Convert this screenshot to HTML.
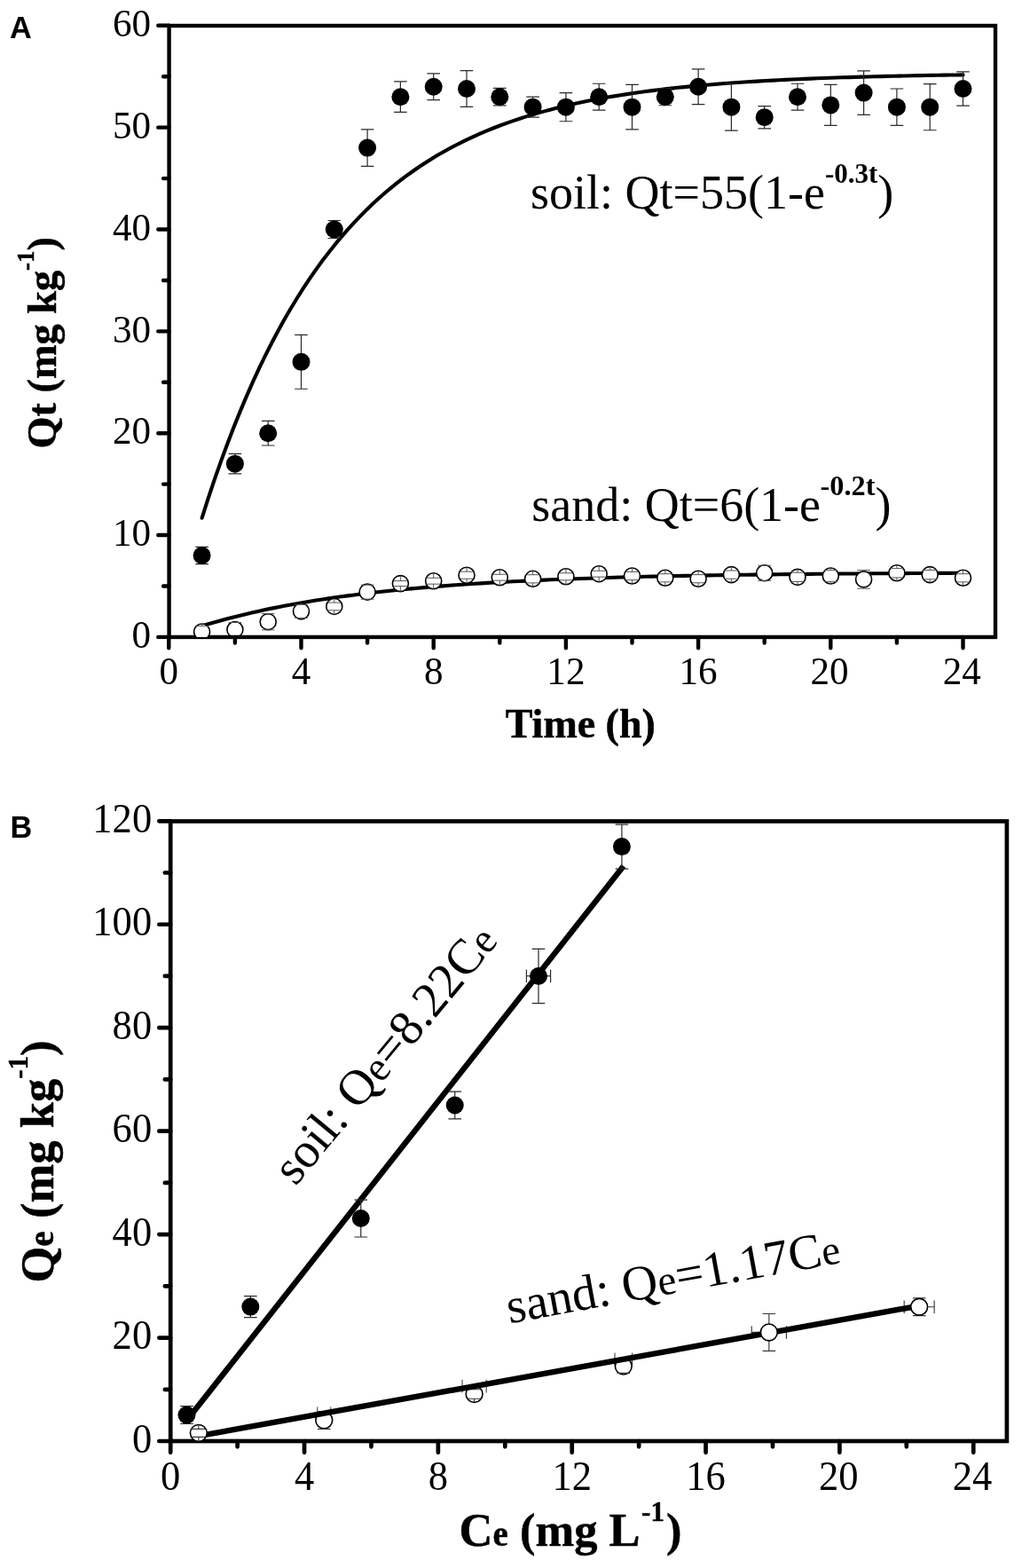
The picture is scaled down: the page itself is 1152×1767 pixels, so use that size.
<!DOCTYPE html>
<html lang="en">
<head>
<meta charset="utf-8">
<title>Adsorption kinetics and isotherms</title>
<style>
html,body{margin:0;padding:0;background:#fff;}
body{width:1152px;height:1767px;overflow:hidden;}
svg{display:block;}
</style>
</head>
<body>
<svg width="1152" height="1767" viewBox="0 0 1152 1767" role="img" aria-label="Adsorption kinetics (A) and isotherms (B) for soil and sand">
<rect width="1152" height="1767" fill="#fff"/>
<path d="M227.6 583.76L234.75 561.49L241.9 540.2L249.05 519.87L256.2 500.43L263.35 481.86L270.5 464.11L277.64 447.15L284.79 430.94L291.94 415.46L299.09 400.66L306.24 386.51L313.39 373L320.54 360.09L327.69 347.75L334.84 335.95L341.99 324.69L349.14 313.92L356.28 303.63L363.43 293.79L370.58 284.4L377.73 275.42L384.88 266.84L392.03 258.64L399.18 250.8L406.33 243.32L413.48 236.16L420.63 229.32L427.78 222.79L434.93 216.55L442.07 210.58L449.22 204.88L456.37 199.43L463.52 194.23L470.67 189.25L477.82 184.5L484.97 179.96L492.12 175.61L499.27 171.47L506.42 167.5L513.57 163.71L520.72 160.09L527.87 156.64L535.01 153.33L542.16 150.17L549.31 147.15L556.46 144.27L563.61 141.51L570.76 138.88L577.91 136.36L585.06 133.96L592.21 131.66L599.36 129.46L606.51 127.36L613.65 125.36L620.8 123.44L627.95 121.61L635.1 119.86L642.25 118.19L649.4 116.59L656.55 115.06L663.7 113.6L670.85 112.21L678 110.88L685.15 109.6L692.3 108.39L699.44 107.23L706.59 106.11L713.74 105.05L720.89 104.04L728.04 103.07L735.19 102.14L742.34 101.26L749.49 100.41L756.64 99.6L763.79 98.83L770.94 98.09L778.09 97.39L785.23 96.71L792.38 96.07L799.53 95.45L806.68 94.86L813.83 94.3L820.98 93.76L828.13 93.25L835.28 92.76L842.43 92.29L849.58 91.84L856.73 91.42L863.88 91.01L871.02 90.62L878.17 90.24L885.32 89.89L892.47 89.54L899.62 89.22L906.77 88.91L913.92 88.61L921.07 88.32L928.22 88.05L935.37 87.79L942.52 87.55L949.67 87.31L956.82 87.08L963.96 86.86L971.11 86.66L978.26 86.46L985.41 86.27L992.56 86.09L999.71 85.92L1006.86 85.75L1014.01 85.6L1021.16 85.45L1028.31 85.3L1035.46 85.16L1042.61 85.03L1049.75 84.91L1056.9 84.79L1064.05 84.67L1071.2 84.56L1078.35 84.46L1085.5 84.36" fill="none" stroke="#000" stroke-width="4.1" stroke-linecap="round" stroke-linejoin="round"/>
<path d="M227.6 705.4L234.75 703.26L241.9 701.2L249.05 699.21L256.2 697.29L263.35 695.44L270.5 693.65L277.64 691.93L284.79 690.27L291.94 688.66L299.09 687.12L306.24 685.63L313.39 684.19L320.54 682.8L327.69 681.46L334.84 680.17L341.99 678.92L349.14 677.72L356.28 676.56L363.43 675.44L370.58 674.37L377.73 673.33L384.88 672.32L392.03 671.35L399.18 670.42L406.33 669.52L413.48 668.65L420.63 667.81L427.78 667L434.93 666.22L442.07 665.47L449.22 664.75L456.37 664.05L463.52 663.37L470.67 662.72L477.82 662.09L484.97 661.49L492.12 660.9L499.27 660.34L506.42 659.79L513.57 659.27L520.72 658.76L527.87 658.27L535.01 657.8L542.16 657.35L549.31 656.91L556.46 656.49L563.61 656.08L570.76 655.69L577.91 655.31L585.06 654.94L592.21 654.59L599.36 654.25L606.51 653.92L613.65 653.6L620.8 653.3L627.95 653L635.1 652.72L642.25 652.45L649.4 652.18L656.55 651.93L663.7 651.68L670.85 651.44L678 651.21L685.15 650.99L692.3 650.78L699.44 650.57L706.59 650.37L713.74 650.18L720.89 650L728.04 649.82L735.19 649.65L742.34 649.48L749.49 649.32L756.64 649.17L763.79 649.02L770.94 648.88L778.09 648.74L785.23 648.61L792.38 648.48L799.53 648.35L806.68 648.23L813.83 648.12L820.98 648.01L828.13 647.9L835.28 647.8L842.43 647.7L849.58 647.6L856.73 647.51L863.88 647.42L871.02 647.33L878.17 647.25L885.32 647.17L892.47 647.09L899.62 647.01L906.77 646.94L913.92 646.87L921.07 646.8L928.22 646.74L935.37 646.68L942.52 646.62L949.67 646.56L956.82 646.5L963.96 646.45L971.11 646.4L978.26 646.34L985.41 646.3L992.56 646.25L999.71 646.2L1006.86 646.16L1014.01 646.12L1021.16 646.08L1028.31 646.04L1035.46 646L1042.61 645.96L1049.75 645.93L1056.9 645.89L1064.05 645.86L1071.2 645.83L1078.35 645.8L1085.5 645.77" fill="none" stroke="#000" stroke-width="4.1" stroke-linecap="round" stroke-linejoin="round"/>
<path d="M220.3 616.37H234.9M227.6 616.37V617.02M220.3 635.67H234.9M227.6 635.67V635.02M257.6 511.4H272.2M264.9 511.4V513.65M257.6 533.91H272.2M264.9 533.91V531.65M294.9 474.42H309.5M302.2 474.42V479.2M294.9 501.98H309.5M302.2 501.98V497.2M332.2 377.37H346.8M339.5 377.37V398.81M332.2 438.24H346.8M339.5 438.24V416.81M369.5 248.51H384.1M376.8 248.51V249.5M369.5 268.49H384.1M376.8 268.49V267.5M406.8 145.95H421.4M414.1 145.95V157.62M406.8 187.29H421.4M414.1 187.29V175.62M444.1 91.97H458.7M451.4 91.97V100.2M444.1 126.42H458.7M451.4 126.42V118.2M481.4 82.78H496M488.7 82.78V88.71M481.4 112.64H496M488.7 112.64V106.71M518.7 79.56H533.3M526 79.56V91.01M518.7 120.45H533.3M526 120.45V109.01M556 99.43H570.6M563.3 99.43V100.2M556 118.96H570.6M563.3 118.96V118.2M593.3 109.19H607.9M600.6 109.19V111.68M593.3 132.16H607.9M600.6 132.16V129.68M630.6 104.6H645.2M637.9 104.6V111.68M630.6 136.76H645.2M637.9 136.76V129.68M667.9 94.26H682.5M675.2 94.26V100.2M667.9 124.13H682.5M675.2 124.13V118.2M705.2 95.41H719.8M712.5 95.41V111.68M705.2 145.95H719.8M712.5 145.95V129.68M742.5 99.66H757.1M742.5 118.73H757.1M779.8 77.84H794.4M787.1 77.84V88.71M779.8 117.58H794.4M787.1 117.58V106.71M817.1 94.26H831.7M824.4 94.26V111.68M817.1 147.1H831.7M824.4 147.1V129.68M854.4 119.53H869M861.7 119.53V123.16M854.4 144.8H869M861.7 144.8V141.16M891.7 94.26H906.3M899 94.26V100.2M891.7 124.13H906.3M899 124.13V118.2M929 95.41H943.6M936.3 95.41V109.38M929 141.35H943.6M936.3 141.35V127.38M966.3 79.91H980.9M973.6 79.91V95.6M966.3 129.29H980.9M973.6 129.29V113.6M1003.6 100.01H1018.2M1010.9 100.01V111.68M1003.6 141.35H1018.2M1010.9 141.35V129.68M1040.9 94.61H1055.5M1048.2 94.61V111.68M1040.9 146.75H1055.5M1048.2 146.75V129.68M1078.2 80.83H1092.8M1085.5 80.83V91.01M1078.2 119.19H1092.8M1085.5 119.19V109.01" stroke="#2a2a2a" stroke-width="1.2" fill="none"/>
<g fill="#000"><circle cx="227.6" cy="626.02" r="10.0"/><circle cx="264.9" cy="522.65" r="10.0"/><circle cx="302.2" cy="488.2" r="10.0"/><circle cx="339.5" cy="407.81" r="10.0"/><circle cx="376.8" cy="258.5" r="10.0"/><circle cx="414.1" cy="166.62" r="10.0"/><circle cx="451.4" cy="109.2" r="10.0"/><circle cx="488.7" cy="97.71" r="10.0"/><circle cx="526" cy="100.01" r="10.0"/><circle cx="563.3" cy="109.2" r="10.0"/><circle cx="600.6" cy="120.68" r="10.0"/><circle cx="637.9" cy="120.68" r="10.0"/><circle cx="675.2" cy="109.2" r="10.0"/><circle cx="712.5" cy="120.68" r="10.0"/><circle cx="749.8" cy="109.2" r="10.0"/><circle cx="787.1" cy="97.71" r="10.0"/><circle cx="824.4" cy="120.68" r="10.0"/><circle cx="861.7" cy="132.16" r="10.0"/><circle cx="899" cy="109.2" r="10.0"/><circle cx="936.3" cy="118.38" r="10.0"/><circle cx="973.6" cy="104.6" r="10.0"/><circle cx="1010.9" cy="120.68" r="10.0"/><circle cx="1048.2" cy="120.68" r="10.0"/><circle cx="1085.5" cy="100.01" r="10.0"/></g>
<g fill="#fff" stroke="#000" stroke-width="1.6"><circle cx="264.9" cy="709.52" r="9.0"/><circle cx="302.2" cy="700.67" r="9.0"/><circle cx="339.5" cy="688.84" r="9.0"/><circle cx="376.8" cy="683.44" r="9.0"/><circle cx="414.1" cy="667.14" r="9.0"/><circle cx="451.4" cy="657.6" r="9.0"/><circle cx="488.7" cy="654.73" r="9.0"/><circle cx="526" cy="648.19" r="9.0"/><circle cx="563.3" cy="650.71" r="9.0"/><circle cx="600.6" cy="652.32" r="9.0"/><circle cx="637.9" cy="649.79" r="9.0"/><circle cx="675.2" cy="646.69" r="9.0"/><circle cx="712.5" cy="648.99" r="9.0"/><circle cx="749.8" cy="651.29" r="9.0"/><circle cx="787.1" cy="652.21" r="9.0"/><circle cx="824.4" cy="647.61" r="9.0"/><circle cx="861.7" cy="645.77" r="9.0"/><circle cx="899" cy="650.37" r="9.0"/><circle cx="936.3" cy="648.99" r="9.0"/><circle cx="973.6" cy="652.89" r="9.0"/><circle cx="1010.9" cy="645.77" r="9.0"/><circle cx="1048.2" cy="647.61" r="9.0"/><circle cx="1085.5" cy="651.29" r="9.0"/></g><path d="M257.6 701.48H272.2M264.9 701.48V700.52M257.6 717.56H272.2M264.9 717.56V718.52M294.9 691.48H309.5M294.9 709.86H309.5M332.2 681.38H346.8M339.5 681.38V679.84M332.2 696.31H346.8M339.5 696.31V697.84M369.5 679.08H384.1M376.8 679.08V674.44M369.5 687.81H384.1M376.8 687.81V692.44M406.8 659.1H421.4M414.1 659.1V658.14M406.8 675.18H421.4M414.1 675.18V676.14M444.1 654.62H458.7M451.4 654.62V648.6M444.1 660.59H458.7M451.4 660.59V666.6M481.4 651.29H496M488.7 651.29V645.73M481.4 658.18H496M488.7 658.18V663.73M518.7 644.17H533.3M526 644.17V639.19M518.7 652.21H533.3M526 652.21V657.19M556 647.27H570.6M563.3 647.27V641.71M556 654.16H570.6M563.3 654.16V659.71M593.3 647.73H607.9M600.6 647.73V643.32M593.3 656.91H607.9M600.6 656.91V661.32M630.6 645.77H645.2M637.9 645.77V640.79M630.6 653.81H645.2M637.9 653.81V658.79M667.9 643.25H682.5M675.2 643.25V637.69M667.9 650.14H682.5M675.2 650.14V655.69M705.2 644.4H719.8M712.5 644.4V639.99M705.2 653.58H719.8M712.5 653.58V657.99M742.5 646.69H757.1M749.8 646.69V642.29M742.5 655.88H757.1M749.8 655.88V660.29M779.8 647.61H794.4M787.1 647.61V643.21M779.8 656.8H794.4M787.1 656.8V661.21M817.1 643.02H831.7M824.4 643.02V638.61M817.1 652.21H831.7M824.4 652.21V656.61M854.4 637.16H869M854.4 654.39H869M891.7 645.2H906.3M899 645.2V641.37M891.7 655.54H906.3M899 655.54V659.37M929 642.67H943.6M936.3 642.67V639.99M929 655.31H943.6M936.3 655.31V657.99M966.3 642.56H980.9M973.6 642.56V643.89M966.3 663.23H980.9M973.6 663.23V661.89M1003.6 640.61H1018.2M1010.9 640.61V636.77M1003.6 650.94H1018.2M1010.9 650.94V654.77M1040.9 642.44H1055.5M1048.2 642.44V638.61M1040.9 652.78H1055.5M1048.2 652.78V656.61M1078.2 646.69H1092.8M1085.5 646.69V642.29M1078.2 655.88H1092.8M1085.5 655.88V660.29" stroke="#555" stroke-width="1" fill="none"/>
<path d="M190.3 717.95V730.25M339.5 717.95V730.25M488.7 717.95V730.25M637.9 717.95V730.25M787.1 717.95V730.25M936.3 717.95V730.25M1085.5 717.95V730.25M264.9 717.95V724.45M414.1 717.95V724.45M563.3 717.95V724.45M712.5 717.95V724.45M861.7 717.95V724.45M1010.9 717.95V724.45M190.6 717.9H178.3M190.6 603.05H178.3M190.6 488.2H178.3M190.6 373.35H178.3M190.6 258.5H178.3M190.6 143.65H178.3M190.6 28.8H178.3M190.6 660.48H184.1M190.6 545.62H184.1M190.6 430.77H184.1M190.6 315.93H184.1M190.6 201.08H184.1M190.6 86.23H184.1" stroke="#000" stroke-width="4.4" stroke-linecap="round" fill="none"/>
<rect x="190.6" y="29" width="931.4" height="688.95" fill="none" stroke="#000" stroke-width="4.4" stroke-linejoin="miter"/>
<clipPath id="clipA"><rect x="190.6" y="29" width="931.4" height="688.95"/></clipPath>
<g clip-path="url(#clipA)"><g fill="#fff" stroke="#000" stroke-width="1.6"><circle cx="227.6" cy="711.93" r="9.0"/></g><path d="M220.3 705.38H234.9M227.6 705.38V702.93M220.3 718.47H234.9M227.6 718.47V720.93" stroke="#555" stroke-width="1" fill="none"/></g>
<g font-family="'Liberation Serif','Times New Roman',Times,serif" font-size="43.2" fill="#000">
<text x="170.2" y="730.2" text-anchor="end" transform="matrix(1 0 0 1.043 0 -31.4)">0</text>
<text x="170.2" y="615.35" text-anchor="end" transform="matrix(1 0 0 1.043 0 -26.46)">10</text>
<text x="170.2" y="500.5" text-anchor="end" transform="matrix(1 0 0 1.043 0 -21.52)">20</text>
<text x="170.2" y="385.65" text-anchor="end" transform="matrix(1 0 0 1.043 0 -16.58)">30</text>
<text x="170.2" y="270.8" text-anchor="end" transform="matrix(1 0 0 1.043 0 -11.64)">40</text>
<text x="170.2" y="155.95" text-anchor="end" transform="matrix(1 0 0 1.043 0 -6.71)">50</text>
<text x="170.2" y="41.1" text-anchor="end" transform="matrix(1 0 0 1.043 0 -1.77)">60</text>
<text x="190.3" y="771.2" text-anchor="middle" transform="matrix(1 0 0 1.043 0 -33.16)">0</text>
<text x="339.5" y="771.2" text-anchor="middle" transform="matrix(1 0 0 1.043 0 -33.16)">4</text>
<text x="488.7" y="771.2" text-anchor="middle" transform="matrix(1 0 0 1.043 0 -33.16)">8</text>
<text x="637.9" y="771.2" text-anchor="middle" transform="matrix(1 0 0 1.043 0 -33.16)">12</text>
<text x="787.1" y="771.2" text-anchor="middle" transform="matrix(1 0 0 1.043 0 -33.16)">16</text>
<text x="935.1" y="771.2" text-anchor="middle" transform="matrix(1 0 0 1.043 0 -33.16)">20</text>
<text x="1084.3" y="771.2" text-anchor="middle" transform="matrix(1 0 0 1.043 0 -33.16)">24</text>
</g>
<text x="654.3" y="831" text-anchor="middle" font-family="'Liberation Serif','Times New Roman',Times,serif" font-weight="bold" font-size="46" fill="#000" stroke="#000" stroke-width="0.5">Time (h)</text>
<text transform="translate(63.4 505.5) rotate(-90)" font-family="'Liberation Serif','Times New Roman',Times,serif" font-weight="bold" font-size="46.3" fill="#000" stroke="#000" stroke-width="0.5">Qt (mg kg<tspan font-size="27" dy="-25.5">-1</tspan><tspan dy="25.5">)</tspan></text>
<text x="598" y="235.4" font-family="'Liberation Serif','Times New Roman',Times,serif" font-size="54" fill="#000">soil: Qt=55(1-e<tspan font-size="31" font-weight="bold" dy="-29.6">-0.3t</tspan><tspan dy="29.6">)</tspan></text>
<text x="599.2" y="587.2" font-family="'Liberation Serif','Times New Roman',Times,serif" font-size="54" fill="#000">sand: Qt=6(1-e<tspan font-size="32.3" font-weight="bold" dy="-29.6" dx="-0.5">-0.2t</tspan><tspan dy="29.6">)</tspan></text>
<text x="10.9" y="42.5" font-family="'Liberation Sans',Arial,Helvetica,sans-serif" font-weight="bold" font-size="34.3" fill="#000">A</text>
<path d="M357.75 1585.43V1600.03M372.83 1585.43V1600.03M521.03 1554.84V1569.44M548.18 1554.84V1569.44M692.99 1524.46V1539.06M712.6 1524.46V1539.06" stroke="#444" stroke-width="1.1" fill="none"/>
<circle cx="365.29" cy="1600.42" r="9.4" fill="#fff" stroke="#000" stroke-width="1.6"/>
<path d="M357.99 1590.52H372.59M357.99 1610.32H372.59" stroke="#383838" stroke-width="1.15" fill="none"/>
<circle cx="534.61" cy="1571.02" r="9.4" fill="#fff" stroke="#000" stroke-width="1.6"/>
<path d="M527.31 1565.77H541.91M534.61 1565.77V1561.62M527.31 1576.26H541.91M534.61 1576.26V1580.42" stroke="#383838" stroke-width="1.15" fill="none"/>
<circle cx="702.79" cy="1539.57" r="9.4" fill="#fff" stroke="#000" stroke-width="1.6"/>
<path d="M695.49 1531.71H710.09M702.79 1531.71V1530.17M695.49 1547.43H710.09M702.79 1547.43V1548.97" stroke="#383838" stroke-width="1.15" fill="none"/>
<path d="M859.53 1480.48H874.13M866.83 1480.48V1492.04M859.53 1522.4H874.13M866.83 1522.4V1510.84M847.22 1494.14V1508.74M847.22 1501.44H857.43M886.44 1494.14V1508.74M886.44 1501.44H876.23" stroke="#383838" stroke-width="1.15" fill="none"/>
<path d="M1028.85 1462.83H1043.45M1028.85 1482.63H1043.45M1019.18 1465.43V1480.03M1019.18 1472.73H1026.75M1053.12 1465.43V1480.03M1053.12 1472.73H1045.55" stroke="#383838" stroke-width="1.15" fill="none"/>
<path d="M211.05 1600.07L702.79 975.96" stroke="#000" stroke-width="6.4" fill="none"/>
<path d="M224.25 1618.21L1036.9 1471.4" stroke="#000" stroke-width="6.4" fill="none"/>
<circle cx="866.83" cy="1501.44" r="9.4" fill="#fff" stroke="#000" stroke-width="1.6"/>
<circle cx="1036.15" cy="1472.73" r="9.4" fill="#fff" stroke="#000" stroke-width="1.6"/>
<path d="M203.19 1584.7H217.79M210.49 1584.7V1585.6M203.19 1604.49H217.79M210.49 1604.49V1603.6M275.03 1460.62H289.63M282.33 1460.62V1463.62M275.03 1484.61H289.63M282.33 1484.61V1481.62M399.47 1352.09H414.07M406.77 1352.09V1364.05M399.47 1394.01H414.07M406.77 1394.01V1382.05M505.44 1230.11H520.03M512.74 1230.11V1236.54M505.44 1260.97H520.03M512.74 1260.97V1254.54M599.71 1069.41H614.31M607.01 1069.41V1090.97M599.71 1130.54H614.31M607.01 1130.54V1108.97M593.43 1092.67V1107.27M593.43 1099.97H598.01M620.59 1092.67V1107.27M620.59 1099.97H616.01M693.61 929.08H708.21M700.91 929.08V945.12M693.61 979.16H708.21M700.91 979.16V963.12" stroke="#2a2a2a" stroke-width="1.2" fill="none"/>
<g fill="#000"><circle cx="210.49" cy="1594.6" r="10.0"/><circle cx="282.33" cy="1472.62" r="10.0"/><circle cx="406.77" cy="1373.05" r="10.0"/><circle cx="512.74" cy="1245.54" r="10.0"/><circle cx="607.01" cy="1099.97" r="10.0"/><circle cx="700.91" cy="954.12" r="10.0"/></g>
<path d="M192.2 1624V1636.85M343.04 1624V1636.85M493.88 1624V1636.85M644.72 1624V1636.85M795.56 1624V1636.85M946.4 1624V1636.85M1097.24 1624V1636.85M267.62 1624V1630.35M418.46 1624V1630.35M569.3 1624V1630.35M720.14 1624V1630.35M870.98 1624V1630.35M1021.82 1624V1630.35M192.2 1624H179.35M192.2 1507.55H179.35M192.2 1391.1H179.35M192.2 1274.65H179.35M192.2 1158.2H179.35M192.2 1041.75H179.35M192.2 925.3H179.35M192.2 1565.78H185.85M192.2 1449.33H185.85M192.2 1332.88H185.85M192.2 1216.42H185.85M192.2 1099.97H185.85M192.2 983.52H185.85" stroke="#000" stroke-width="4.7" stroke-linecap="round" fill="none"/>
<rect x="192.2" y="925.5" width="942.7" height="698.5" fill="none" stroke="#000" stroke-width="4.7" stroke-linejoin="miter"/>
<circle cx="223.88" cy="1614.86" r="9.4" fill="#fff" stroke="#000" stroke-width="1.6"/>
<path d="M216.58 1610.32H231.18M223.88 1610.32V1605.46M216.58 1619.4H231.18M223.88 1619.4V1624.26" stroke="#383838" stroke-width="1.15" fill="none"/>
<g font-family="'Liberation Serif','Times New Roman',Times,serif" font-size="44.6" fill="#000">
<text x="171.2" y="1636.7" text-anchor="end" transform="matrix(1 0 0 1.043 0 -70.38)">0</text>
<text x="171.2" y="1520.25" text-anchor="end" transform="matrix(1 0 0 1.043 0 -65.37)">20</text>
<text x="171.2" y="1403.8" text-anchor="end" transform="matrix(1 0 0 1.043 0 -60.36)">40</text>
<text x="171.2" y="1287.35" text-anchor="end" transform="matrix(1 0 0 1.043 0 -55.36)">60</text>
<text x="171.2" y="1170.9" text-anchor="end" transform="matrix(1 0 0 1.043 0 -50.35)">80</text>
<text x="171.2" y="1054.45" text-anchor="end" transform="matrix(1 0 0 1.043 0 -45.34)">100</text>
<text x="171.2" y="938" text-anchor="end" transform="matrix(1 0 0 1.043 0 -40.33)">120</text>
<text x="192.2" y="1678.8" text-anchor="middle" transform="matrix(1 0 0 1.043 0 -72.19)">0</text>
<text x="343.04" y="1678.8" text-anchor="middle" transform="matrix(1 0 0 1.043 0 -72.19)">4</text>
<text x="493.88" y="1678.8" text-anchor="middle" transform="matrix(1 0 0 1.043 0 -72.19)">8</text>
<text x="644.72" y="1678.8" text-anchor="middle" transform="matrix(1 0 0 1.043 0 -72.19)">12</text>
<text x="795.56" y="1678.8" text-anchor="middle" transform="matrix(1 0 0 1.043 0 -72.19)">16</text>
<text x="945.2" y="1678.8" text-anchor="middle" transform="matrix(1 0 0 1.043 0 -72.19)">20</text>
<text x="1096.04" y="1678.8" text-anchor="middle" transform="matrix(1 0 0 1.043 0 -72.19)">24</text>
</g>
<text x="517.6" y="1742.4" font-family="'Liberation Serif','Times New Roman',Times,serif" font-weight="bold" font-size="52.5" fill="#000" stroke="#000" stroke-width="0.5">C<tspan font-size="39">e</tspan> (mg L<tspan font-size="31" dy="-28.6" dx="1.5">-1</tspan><tspan dy="28.6" dx="2">)</tspan></text>
<text transform="translate(60.2 1445.5) rotate(-90)" font-family="'Liberation Serif','Times New Roman',Times,serif" font-weight="bold" font-size="52.5" word-spacing="1.2" fill="#000" stroke="#000" stroke-width="0.5">Q<tspan font-size="39">e</tspan> (mg kg<tspan font-size="31" dy="-29.5">-1</tspan><tspan dy="29.5">)</tspan></text>
<text transform="translate(333 1337.5) rotate(-50.3)" font-family="'Liberation Serif','Times New Roman',Times,serif" font-size="56" fill="#000">soil: Q<tspan font-size="47">e</tspan>=8.22C<tspan font-size="47">e</tspan></text>
<text transform="translate(574.3 1491.5) rotate(-10.4)" font-family="'Liberation Serif','Times New Roman',Times,serif" font-size="56" fill="#000">sand: Q<tspan font-size="47">e</tspan>=1.17C<tspan font-size="47">e</tspan></text>
<text x="11.4" y="943.7" font-family="'Liberation Sans',Arial,Helvetica,sans-serif" font-weight="bold" font-size="34.3" fill="#000">B</text>
</svg>
</body>
</html>
